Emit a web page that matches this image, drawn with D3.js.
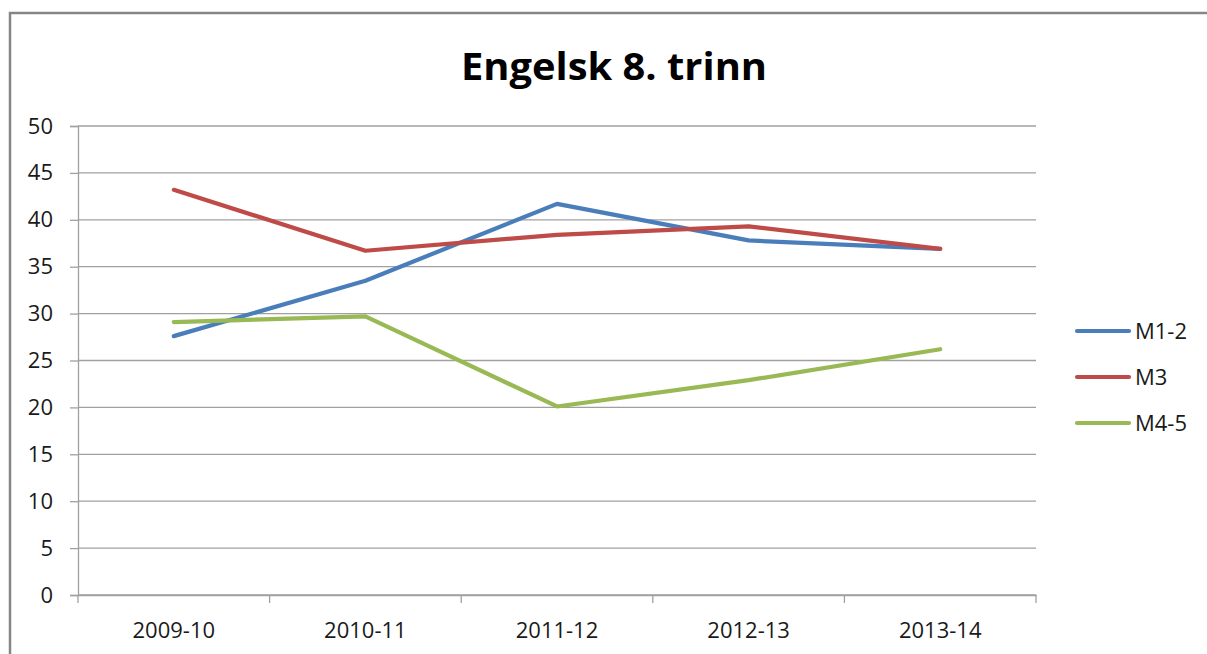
<!DOCTYPE html>
<html><head><meta charset="utf-8">
<script src="https://cdn.jsdelivr.net/npm/d3@7"></script>
<style>html,body{margin:0;padding:0;background:#fff;overflow:hidden}</style>
</head><body><svg id="c" width="1207" height="654"></svg>
<script>
const categories = ["2009-10","2010-11","2011-12","2012-13","2013-14"];
const seriesNames = ["M1-2","M3","M4-5"];
const m12 = [27.6, 33.5, 41.7, 37.8, 36.9];
const m3  = [43.2, 36.7, 38.4, 39.3, 36.9];
const m45 = [29.1, 29.7, 20.1, 22.9, 26.2];
const yTicks = [0,5,10,15,20,25,30,35,40,45,50];
const colors = ["#4a7ebb","#be4b48","#98b954"];
const series = [m12, m3, m45];

const svg = d3.select("#c");
const font = "'Open Sans', 'Liberation Sans', sans-serif";
// frame
svg.append("path").attr("d","M10,654 V13 H1207").attr("fill","none").attr("stroke","#868686").attr("stroke-width",2.5);

svg.append("text").attr("x",614).attr("y",80).attr("text-anchor","middle")
  .attr("font-family",font).attr("font-weight","bold").attr("font-size",38)
  .attr("textLength",306).attr("lengthAdjust","spacingAndGlyphs")
  .text("Engelsk 8. trinn");

const x = d3.scaleBand().domain(categories).range([78,1036]);
const y = d3.scaleLinear().domain([0,50]).range([595,126]);

// gridlines
svg.append("g").selectAll("line").data(yTicks).join("line")
  .attr("x1",78).attr("x2",1036).attr("y1",d=>y(d)).attr("y2",d=>y(d))
  .attr("stroke","#a0a0a0").attr("stroke-width",1.3);

// y axis
const ya = svg.append("g").attr("transform","translate(78,0)")
  .call(d3.axisLeft(y).tickValues(yTicks).tickSize(8).tickPadding(17));
ya.select(".domain").attr("stroke","#a0a0a0").attr("stroke-width",1.3);
ya.selectAll(".tick line").attr("stroke","#a0a0a0").attr("stroke-width",1.3);
ya.selectAll("text").attr("font-family",font).attr("font-size",22).attr("fill","#1a1a1a");

// x axis
const xa = svg.append("g").attr("transform","translate(0,595)")
  .call(d3.axisBottom(x).tickSize(0).tickPadding(27));
xa.select(".domain").attr("stroke","#a0a0a0").attr("stroke-width",1.3);
xa.selectAll("text").attr("font-family",font).attr("font-size",22).attr("fill","#1a1a1a");
const bounds = categories.map(c=>x(c)).concat([x.range()[1]]);
xa.selectAll(".bt").data(bounds).join("line").attr("class","bt")
  .attr("x1",d=>d).attr("x2",d=>d).attr("y1",0).attr("y2",8)
  .attr("stroke","#a0a0a0").attr("stroke-width",1.3);

const line = d3.line().x((d,i)=>x(categories[i])+x.bandwidth()/2).y(d=>y(d));
series.forEach((s,k)=>{
  svg.append("path").datum(s).attr("d",line).attr("fill","none")
    .attr("stroke",colors[k]).attr("stroke-width",4.2)
    .attr("stroke-linejoin","round").attr("stroke-linecap","round");
});

// legend
const lg = svg.append("g");
seriesNames.forEach((n,k)=>{
  const yy = 331 + k*46;
  lg.append("line").attr("x1",1077).attr("x2",1129).attr("y1",yy).attr("y2",yy)
    .attr("stroke",colors[k]).attr("stroke-width",4.2).attr("stroke-linecap","round");
  lg.append("text").attr("x",1135).attr("y",yy+8).attr("font-family",font)
    .attr("font-size",22).attr("fill","#1a1a1a").text(n);
});
</script></body></html>
